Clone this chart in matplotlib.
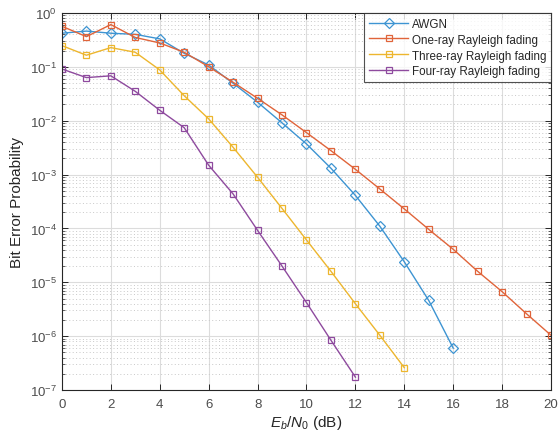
import matplotlib
matplotlib.use("Agg")
import matplotlib.pyplot as plt
from matplotlib.ticker import FixedLocator, NullFormatter, LogFormatterSciNotation
import numpy as np

plt.rcParams['font.family'] = ['Liberation Sans', 'DejaVu Sans']
plt.rcParams['mathtext.fontset'] = 'custom'
plt.rcParams['mathtext.rm'] = 'Liberation Sans'
plt.rcParams['mathtext.it'] = 'Liberation Sans:italic'

snr_awgn = list(range(0, 17))
ber_awgn = [0.42, 0.46, 0.42, 0.40, 0.33, 0.178, 0.108, 0.0495, 0.022, 0.0091,
            0.0037, 0.00131, 4.1e-4, 1.1e-4, 2.4e-5, 4.6e-6, 6.0e-7]

snr_one = list(range(0, 21))
ber_one = [0.565, 0.363, 0.607, 0.35, 0.277, 0.186, 0.1, 0.0516, 0.026, 0.0128,
           0.006, 0.00278, 0.00125, 5.4e-4, 2.3e-4, 9.6e-5, 4.1e-5, 1.6e-5,
           6.7e-6, 2.6e-6, 1.04e-6]

snr_three = list(range(0, 15))
ber_three = [0.247, 0.164, 0.227, 0.186, 0.0875, 0.029, 0.0108, 0.0032, 8.9e-4,
             2.35e-4, 6.1e-5, 1.6e-5, 4.0e-6, 1.04e-6, 2.6e-7]

snr_four = list(range(0, 13))
ber_four = [0.091, 0.063, 0.068, 0.035, 0.0156, 0.0074, 0.00149, 4.36e-4, 9.2e-5,
            2.0e-5, 4.2e-6, 8.4e-7, 1.74e-7]

labels = ["AWGN", "One-ray Rayleigh fading", "Three-ray Rayleigh fading",
          "Four-ray Rayleigh fading"]
colors = ["#3D94D2", "#E0643A", "#EDB62E", "#8E4A9E"]

x_ticks = list(range(0, 21, 2))
y_decades = [1e-7, 1e-6, 1e-5, 1e-4, 1e-3, 1e-2, 1e-1, 1e0]

fig = plt.figure(figsize=(5.58, 4.35), dpi=100)
ax = fig.add_axes([0.111, 0.101, 0.8765, 0.867])

ax.semilogy(snr_awgn, ber_awgn, '-D', color=colors[0], mfc='none', ms=5.6, mew=0.9, lw=1.0, label=labels[0])
ax.semilogy(snr_one, ber_one, '-s', color=colors[1], mfc='none', ms=4.6, mew=0.9, lw=1.0, label=labels[1])
ax.semilogy(snr_three, ber_three, '-s', color=colors[2], mfc='none', ms=4.6, mew=0.9, lw=1.0, label=labels[2])
ax.semilogy(snr_four, ber_four, '-s', color=colors[3], mfc='none', ms=4.6, mew=0.9, lw=1.0, label=labels[3])

ax.set_xlim(0, 20)
ax.set_ylim(1e-7, 1)
ax.set_xticks(x_ticks)
ax.yaxis.set_major_locator(FixedLocator(y_decades))
ax.yaxis.set_major_formatter(LogFormatterSciNotation())
minor = [d * k for d in y_decades[:-1] for k in range(2, 10)]
ax.yaxis.set_minor_locator(FixedLocator(minor))
ax.yaxis.set_minor_formatter(NullFormatter())

ax.grid(True, which='major', color='#DCDCDC', lw=0.8, ls='-')
ax.grid(True, which='minor', axis='y', color='#C8C8C8', lw=0.7, ls=(0, (1, 2.5)))
ax.set_axisbelow(True)

ax.tick_params(which='both', direction='in', top=True, right=True, colors='#262626',
               labelcolor='#4D4D4D', labelsize=9.5)
ax.tick_params(which='major', length=4, width=0.7)
ax.tick_params(which='minor', length=2, width=0.5)
ax.tick_params(axis='x', pad=6)
for s in ax.spines.values():
    s.set_color('#262626')
    s.set_linewidth(0.8)

ax.set_xlabel(r'$E_b/N_0$ (dB)', fontsize=11, color='#262626', labelpad=2)
ax.set_ylabel('Bit Error Probability', fontsize=11, color='#262626', labelpad=4)

leg = ax.legend(loc='upper right', fontsize=8.4, frameon=True, fancybox=False,
                edgecolor='#262626', borderaxespad=0, handlelength=3.4,
                borderpad=0.4, labelspacing=0.34, handletextpad=0.3,
                markerscale=0.85)
leg.get_frame().set_linewidth(0.8)
for t in leg.get_texts():
    t.set_color('#262626')

fig.savefig('out.png', dpi=100)
